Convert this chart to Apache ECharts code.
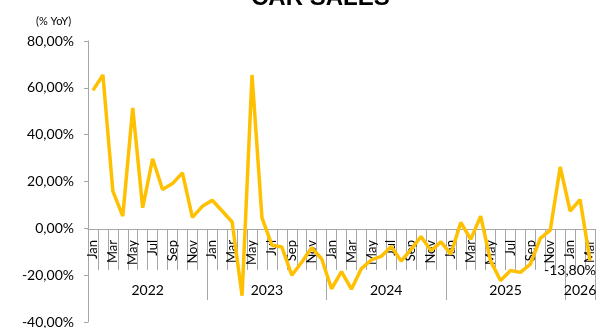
<!DOCTYPE html>
<html lang="en">

<head>
    <meta charset="utf-8">
    <title>car-sales</title>
    <script src="https://cdn.jsdelivr.net/npm/echarts@6/dist/echarts.min.js"></script>
    <style>
        html, body { margin: 0; padding: 0; background: #fff; }
        #container { width: 610px; height: 328px; }
    </style>
</head>

<body>
<div id="container"></div>
<script>
    // chart data
    const monthNames = ["Jan", "Feb", "Mar", "Apr", "May", "Jun", "Jul", "Aug", "Sep", "Oct", "Nov", "Dec"];
    const years = ["2022", "2023", "2024", "2025", "2026"];
    const monthsPerYear = [12, 12, 12, 12, 3];
    const yoy = [
        58.9, 65.5, 15.9, 5.2, 51.4, 8.8, 29.7, 16.6, 19.1, 23.7, 4.7, 9.4,
        12.0, 7.4, 2.7, -28.8, 65.5, 4.5, -7.2, -8.0, -20.0, -14.5, -8.3, -13.0,
        -25.8, -18.5, -26.0, -17.2, -13.5, -12.0, -7.7, -14.0, -9.0, -3.5, -9.6, -5.8,
        -11.0, 2.5, -4.7, 5.2, -14.0, -22.3, -18.0, -18.8, -15.3, -4.3, -0.8, 26.2,
        7.4, 12.3, -13.8
    ];
    const yTicks = [-40, -20, 0, 20, 40, 60, 80];

    const categories = [];
    const yearBounds = [0];
    const yearCenters = [];
    years.forEach((y, k) => {
        for (let m = 0; m < monthsPerYear[k]; m++) categories.push(monthNames[m]);
        const start = yearBounds[yearBounds.length - 1];
        yearBounds.push(start + monthsPerYear[k]);
        yearCenters.push(start + monthsPerYear[k] / 2);
    });

    const pct = v => v.toFixed(2).replace(".", ",") + "%";
    const grey = "#a6a6a6";
    const font = "Lato";

    const seriesData = yoy.map((v, i) => {
        if (i !== yoy.length - 1) return v;
        return {
            value: v,
            label: {
                show: true,
                position: "bottom",
                distance: 3,
                offset: [-20, 0],
                formatter: p => pct(p.value),
                color: "#000",
                fontFamily: font,
                fontSize: 14
            }
        };
    });

    // x axes sit on the zero line: 93px above the grid bottom
    const zeroOffset = -93;

    const option = {
        animation: false,
        title: [{
            text: "CAR SALES",
            left: 246,
            top: -19,
            textStyle: { fontFamily: "Liberation Sans", fontWeight: "bold", fontSize: 24, color: "#000" }
        }, {
            text: "(% YoY)",
            left: 31,
            top: 11,
            textStyle: { fontFamily: font, fontWeight: "normal", fontSize: 11, color: "#000" }
        }],
        grid: { left: 88, right: 15, top: 41, bottom: 6, containLabel: false, outerBoundsMode: "none" },
        xAxis: [{
            type: "category",
            data: categories,
            position: "bottom",
            offset: zeroOffset,
            boundaryGap: true,
            axisLine: { onZero: false, lineStyle: { color: grey, width: 1 } },
            axisTick: { show: true, interval: 0, length: 41, lineStyle: { color: grey } },
            axisLabel: {
                show: true,
                interval: 1,
                rotate: 90,
                margin: 11,
                color: "#000",
                fontFamily: font,
                fontSize: 13
            },
            splitLine: { show: false }
        }, {
            type: "value",
            min: 0,
            max: categories.length,
            position: "bottom",
            offset: zeroOffset,
            axisLine: { show: false, onZero: false },
            axisTick: { show: true, length: 71, customValues: yearBounds, lineStyle: { color: grey } },
            axisLabel: {
                show: true,
                customValues: yearCenters,
                formatter: v => years[yearCenters.indexOf(v)],
                margin: 54,
                color: "#000",
                fontFamily: font,
                fontSize: 14
            },
            splitLine: { show: false }
        }],
        yAxis: {
            type: "value",
            min: yTicks[0],
            max: yTicks[yTicks.length - 1],
            interval: 20,
            axisLine: { show: true, onZero: false, lineStyle: { color: grey } },
            axisTick: { show: true, length: 4, lineStyle: { color: grey } },
            axisLabel: {
                formatter: v => pct(v),
                margin: 14,
                color: "#000",
                fontFamily: font,
                fontSize: 14
            },
            splitLine: { show: false }
        },
        series: [{
            type: "line",
            data: seriesData,
            xAxisIndex: 0,
            yAxisIndex: 0,
            showSymbol: true,
            symbol: "circle",
            symbolSize: 0,
            lineStyle: { color: "#FFC000", width: 3.5 },
            itemStyle: { color: "#FFC000" }
        }]
    };

    const chart = echarts.init(document.getElementById("container"));
    chart.setOption(option);
</script>
</body>

</html>
